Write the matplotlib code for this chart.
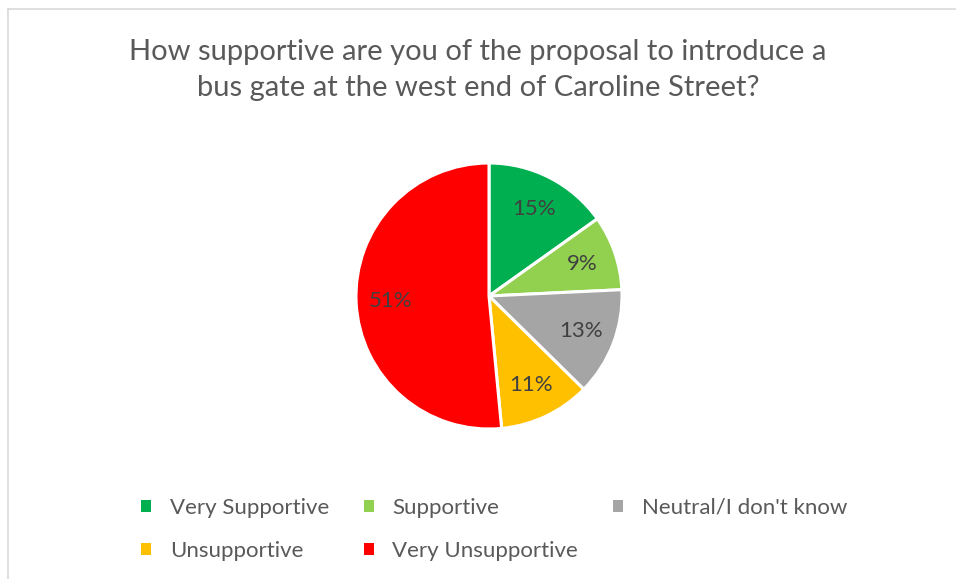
import matplotlib.pyplot as plt
from matplotlib.lines import Line2D
from matplotlib.patches import Patch

categories = ['Very Supportive', 'Supportive', "Neutral/I don't know",
              'Unsupportive', 'Very Unsupportive']
values = [15, 9, 13, 11, 51]
colors = ['#00B050', '#92D050', '#A5A5A5', '#FFC000', '#FF0000']

plt.rcParams['font.family'] = ['Lato', 'DejaVu Sans']

fig = plt.figure(figsize=(9.56, 5.79), dpi=100)

# chart area border (top and left only visible)
fig.add_artist(Line2D([8/956, 1], [1 - 8.5/579, 1 - 8.5/579],
                      color='#D9D9D9', lw=1.2, transform=fig.transFigure))
fig.add_artist(Line2D([8/956, 8/956], [0, 1 - 8.5/579],
                      color='#D9D9D9', lw=1.2, transform=fig.transFigure))

fig.text(0.5, 1 - 70/579,
         "How supportive are you of the proposal to introduce a\nbus gate at the west end of Caroline Street?",
         ha='center', va='center', fontsize=21, color='#595959', linespacing=1.5)

r = 133
cx, cy = 489, 296
ax = fig.add_axes([(cx - r) / 956, 1 - (cy + r) / 579, 2 * r / 956, 2 * r / 579])
wedges, texts = ax.pie(values, colors=colors, startangle=90, counterclock=False,
                       labels=[f'{v}%' for v in values], labeldistance=0.74,
                       wedgeprops=dict(edgecolor='white', linewidth=2.2))
for t in texts:
    t.set_ha('center')
    t.set_va('center')
    t.set_fontsize(16)
    t.set_color('#404040')
ax.set_xlim(-1, 1)
ax.set_ylim(-1, 1)

# legend, reordered so matplotlib's column-major fill reads row by row
order = [0, 3, 1, 4, 2]
handles = [Patch(facecolor=colors[i], edgecolor='none') for i in order]
labels = [categories[i] for i in order]
fig.legend(handles, labels, ncol=3, loc='upper left',
           bbox_to_anchor=(121/956, 1 - 478/579), frameon=False,
           fontsize=16, labelcolor='#595959', handlelength=0.45,
           handleheight=0.45, handletextpad=0.85, columnspacing=1.55,
           labelspacing=1.05)

fig.savefig('out.png', dpi=100)
